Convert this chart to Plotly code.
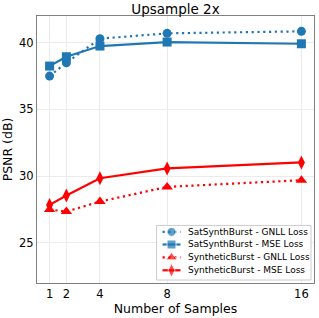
import plotly.graph_objects as go

samples = [1, 2, 4, 8, 16]
sat_gnll = [37.5, 38.5, 40.3, 40.7, 40.85]
sat_mse = [38.25, 38.95, 39.75, 40.05, 39.92]
syn_gnll = [27.5, 27.35, 28.1, 29.2, 29.7]
syn_mse = [27.85, 28.55, 29.85, 30.58, 31.03]
names = ["SatSynthBurst - GNLL Loss", "SatSynthBurst - MSE Loss",
         "SyntheticBurst - GNLL Loss", "SyntheticBurst - MSE Loss"]
x_ticks = [1, 2, 4, 8, 16]
y_ticks = [25, 30, 35, 40]

blue = "#1f77b4"
red = "#ff0000"
font = "DejaVu Sans"
dotted = "2.2px,3.6px"

W, H = 319, 318
L, R, T, B = 37, 4, 16, 33

styles = [
    (blue, dotted, "circle", 9),
    (blue, "solid", "square", 9),
    (red, dotted, "triangle-up", 10),
    (red, "solid", "diamond-tall", 10),
]
data = [sat_gnll, sat_mse, syn_gnll, syn_mse]

fig = go.Figure()
for vals, nm, (col, dash, sym, sz) in zip(data, names, styles):
    fig.add_trace(go.Scatter(
        x=samples, y=vals, name=nm, mode="lines+markers",
        line=dict(color=col, width=2.2, dash=dash),
        marker=dict(color=col, symbol=sym, size=sz),
        showlegend=False,
    ))

# custom compact legend drawn on a pixel-coordinate overlay axis
box_x0, box_x1, box_y0, box_y1 = 157, 312, 227, 282
row_y = [233.5, 246.2, 259.2, 272.2]
key_x0, key_x1, text_x = 163, 181, 187
fig.add_trace(go.Scatter(
    x=[box_x0, box_x1, box_x1, box_x0, box_x0],
    y=[box_y0, box_y0, box_y1, box_y1, box_y0],
    xaxis="x2", yaxis="y2", mode="lines", fill="toself",
    fillcolor="rgba(255,255,255,0.9)", line=dict(color="#cccccc", width=1),
    hoverinfo="skip", showlegend=False,
))
for ry, nm, (col, dash, sym, sz) in zip(row_y, names, styles):
    fig.add_trace(go.Scatter(
        x=[key_x0, (key_x0 + key_x1) / 2, key_x1], y=[ry, ry, ry],
        xaxis="x2", yaxis="y2", mode="lines+markers",
        line=dict(color=col, width=2.2, dash=dash),
        marker=dict(color=col, symbol=sym, size=[0, sz, 0]),
        hoverinfo="skip", showlegend=False,
    ))
    fig.add_annotation(x=text_x, y=ry, xref="x2", yref="y2", text=nm,
                       showarrow=False, xanchor="left", yanchor="middle",
                       font=dict(size=9, family=font, color="black"))

axis_common = dict(
    showgrid=True, gridcolor="#ebebeb", gridwidth=1,
    showline=True, linecolor="#808080", linewidth=1, mirror=True,
    ticks="", tickfont=dict(size=11.5), zeroline=False,
)
fig.update_layout(
    width=W, height=H,
    margin=dict(l=L, r=R, t=T, b=B),
    paper_bgcolor="white", plot_bgcolor="white",
    font=dict(family=font, color="black", size=11),
    title=dict(text="Upsample 2x", x=0.5, xref="paper", xanchor="center",
               y=1 - 9.5 / H, yref="container", yanchor="middle",
               font=dict(size=13.5, family=font)),
    xaxis=dict(range=[0.25, 16.75], tickvals=x_ticks,
               ticktext=[str(t) for t in x_ticks],
               title=dict(text="Number of Samples", font=dict(size=12.5), standoff=4),
               **axis_common),
    yaxis=dict(range=[22, 42], tickvals=y_ticks,
               ticktext=[str(t) for t in y_ticks],
               title=dict(text="PSNR (dB)", font=dict(size=12.5), standoff=4),
               **axis_common),
    xaxis2=dict(range=[L, W - R], overlaying="x", visible=False, fixedrange=True),
    yaxis2=dict(range=[H - B, T], overlaying="y", visible=False, fixedrange=True),
    showlegend=False,
)

fig.write_html("out.html", config={"displayModeBar": False},
               post_script="document.body.style.margin='0';")
